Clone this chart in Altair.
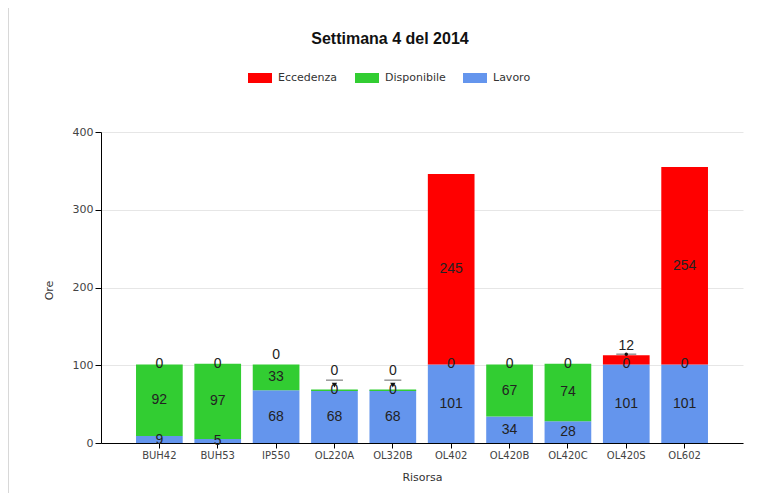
import altair as alt
import pandas as pd

risorse = ["BUH42", "BUH53", "IP550", "OL220A", "OL320B", "OL402", "OL420B", "OL420C", "OL420S", "OL602"]
lavoro = [9, 5, 68, 68, 68, 101, 34, 28, 101, 101]
disponibile = [92, 97, 33, 0, 0, 0, 67, 74, 0, 0]
eccedenza = [0, 0, 0, 0, 0, 245, 0, 0, 12, 254]
serie = ["Eccedenza", "Disponibile", "Lavoro"]
colori = ["#FF0000", "#32CD32", "#6495ED"]
# Eccedenza labels moved above the bar, in two groups
callout_alto = ["OL220A", "OL320B"]
callout_basso = ["IP550", "OL420S"]
marker_basso = ["OL420S"]

rows = []
for i, r in enumerate(risorse):
    for s, vals, order in [("Lavoro", lavoro, 0), ("Disponibile", disponibile, 1), ("Eccedenza", eccedenza, 2)]:
        rows.append({"Risorsa": r, "Serie": s, "Ore": vals[i], "ordine": order})
df = pd.DataFrame(rows)

FONT = "Liberation Sans"
AFONT = "DejaVu Sans"

base = (
    alt.Chart(df)
    .transform_stack(stack="Ore", groupby=["Risorsa"], sort=[alt.SortField("ordine")], as_=["y0", "y1"])
    .transform_calculate(mid="(datum.y0 + datum.y1) / 2")
)

X = alt.X("Risorsa:N", sort=risorse)


def in_list(lst):
    return "indexof(" + str(lst) + ", datum.Risorsa) >= 0 && datum.Serie == 'Eccedenza'"


bars = base.mark_bar().encode(
    x=alt.X(
        "Risorsa:N",
        sort=risorse,
        scale=alt.Scale(paddingInner=0.2, paddingOuter=0.6),
        axis=alt.Axis(title="Risorsa", labelAngle=0, titlePadding=11),
    ),
    y=alt.Y(
        "y0:Q",
        scale=alt.Scale(domain=[0, 400]),
        axis=alt.Axis(title="Ore", values=[0, 100, 200, 300, 400], titleX=-47, titleY=158, grid=True),
    ),
    y2="y1:Q",
    color=alt.Color(
        "Serie:N",
        scale=alt.Scale(domain=serie, range=colori),
        legend=alt.Legend(
            title=None,
            orient="none",
            legendX=149,
            legendY=-64,
            direction="horizontal",
            symbolType="M-1.2,-0.5H1.2V0.5H-1.2Z",
            symbolSize=400,
            symbolStrokeWidth=0,
            labelOffset=8,
            columnPadding=17,
            labelFont=AFONT,
            labelFontSize=11,
            labelColor="#333",
        ),
    ),
)

# thin line of an empty "Disponibile" segment sitting on top of the stack
empty_top = (
    base.transform_joinaggregate(tot="sum(Ore)", groupby=["Risorsa"])
    .transform_filter("datum.Serie == 'Disponibile' && datum.Ore == 0 && datum.y1 == datum.tot")
    .mark_bar(stroke="#32CD32", strokeWidth=1.5, color="#32CD32")
    .encode(x=X, y="y0:Q", y2="y1:Q")
)

lab_style = dict(font=FONT, fontSize=14, color="#222", baseline="middle")

labels = base.transform_filter(
    "!(" + in_list(callout_alto) + ") && !(" + in_list(callout_basso) + ")"
).mark_text(**lab_style).encode(x=X, y="mid:Q", text="Ore:Q")

labels_alto = base.transform_filter(in_list(callout_alto)).mark_text(dy=-19, **lab_style).encode(
    x=X, y="y1:Q", text="Ore:Q"
)
labels_basso = base.transform_filter(in_list(callout_basso)).mark_text(dy=-9, **lab_style).encode(
    x=X, y="y1:Q", text="Ore:Q"
)

ticks_alto = base.transform_filter(in_list(callout_alto)).mark_tick(
    color="#222", thickness=1, size=17, yOffset=-10
).encode(x=X, y="y1:Q")
tri_alto = base.transform_filter(in_list(callout_alto)).mark_point(
    shape="triangle-down", filled=True, color="#111", size=28, yOffset=-5, opacity=1
).encode(x=X, y="y1:Q")

ticks_basso = base.transform_filter(in_list(marker_basso)).mark_tick(
    color="#222", thickness=1, size=20, yOffset=-1
).encode(x=X, y="y1:Q")
dot_basso = base.transform_filter(in_list(marker_basso)).mark_point(
    shape="circle", filled=True, color="#111", size=12, yOffset=-1, opacity=1
).encode(x=X, y="y1:Q")

border = alt.Chart(df).mark_rule(color="#d8d8d8", strokeWidth=1).encode(
    x=alt.value(-93), y=alt.value(-132), y2=alt.value(368)
)

chart = (
    alt.layer(bars, empty_top, labels, labels_alto, labels_basso, ticks_alto, tri_alto, ticks_basso, dot_basso, border)
    .properties(
        width=642,
        height=311,
        autosize=alt.AutoSizeParams(type="none"),
        padding={"left": 93, "top": 124, "right": 7, "bottom": 50},
        title=alt.Title(
            "Settimana 4 del 2014", font=FONT, fontSize=16, fontWeight="bold", color="#111",
            anchor="middle", dx=-32, offset=-47,
        ),
    )
    .configure_view(stroke=None)
    .configure_axis(
        labelFont=AFONT, labelFontSize=10, labelColor="#444",
        titleFont=AFONT, titleFontSize=11, titleColor="#333", titleFontWeight="normal",
        domainColor="#000", tickColor="#000", gridColor="#e6e6e6", tickSize=5,
    )
    .configure_axisY(labelFontSize=11, tickSize=6)
    .configure_axisX(grid=False)
)

chart.save("out.html", embed_options={"renderer": "svg", "actions": False})
